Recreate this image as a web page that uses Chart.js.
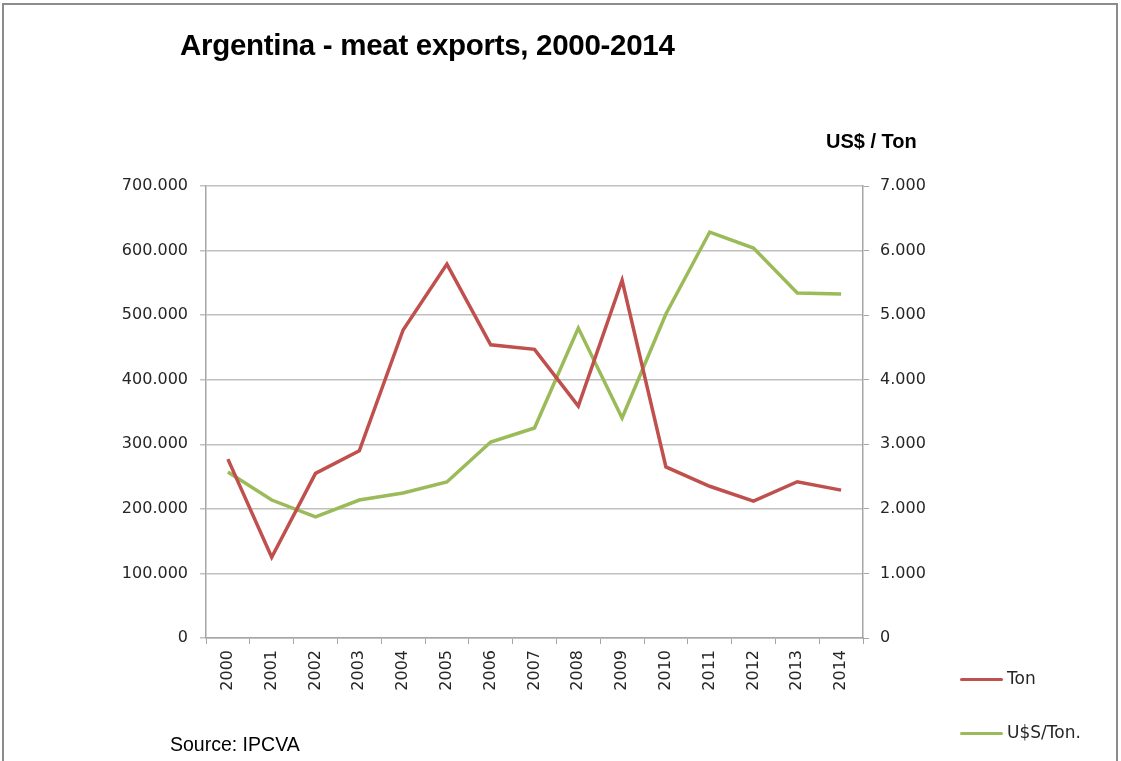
<!DOCTYPE html>
<html>
<head>
<meta charset="utf-8">
<script src="https://cdn.jsdelivr.net/npm/chart.js@4.4.1/dist/chart.umd.min.js"></script>
<style>
  html, body { margin: 0; padding: 0; background: #fff; }
  #wrap { position: relative; width: 1121px; height: 761px; overflow: hidden; }
  #frame { position: absolute; left: 2px; top: 3px; width: 1116px; height: 770px; border: 2px solid #8c8c8c; box-sizing: border-box; }
  canvas { position: absolute; left: 0; top: 0; }
  .txt { position: absolute; color: #000; white-space: nowrap; }
  #title { left: 180px; top: 28px; font: bold 29.5px "Liberation Sans", sans-serif; letter-spacing: -0.3px; }
  #unit { left: 826px; top: 130px; font: bold 20px "Liberation Sans", sans-serif; }
  #source { left: 170px; top: 733px; font: 19.5px "Liberation Sans", sans-serif; }
  .leg { position: absolute; font: 17px "DejaVu Sans", sans-serif; color: #262626; }
  .leg span { display: inline-block; width: 43px; height: 3px; vertical-align: middle; margin-right: 4px; border-radius: 2px; }
</style>
</head>
<body>
<div id="wrap">
  <div id="frame"></div>
  <canvas id="chart" width="1121" height="761"></canvas>
  <div id="title" class="txt">Argentina - meat exports, 2000-2014</div>
  <div id="unit" class="txt">US$ / Ton</div>
  <div id="source" class="txt">Source: IPCVA</div>
  <div id="legend"></div>
</div>
<script>
const years = ['2000', '2001', '2002', '2003', '2004', '2005', '2006', '2007',
    '2008', '2009', '2010', '2011', '2012', '2013', '2014'];
const tons = [277000, 125000, 255000, 290000, 477000, 579000, 454000, 447000,
    359000, 554000, 265000, 235000, 212000, 242000, 229000];
const usdPerTon = [2570, 2137, 1874, 2137, 2245, 2416, 3035, 3252,
    4800, 3407, 5017, 6287, 6040, 5343, 5327];

const red = '#c0504d';
const green = '#9bbb59';

function dots(v) {
    return String(v).replace(/\B(?=(\d{3})+(?!\d))/g, '.');
}

const tickFont = { family: 'DejaVu Sans', size: 16 };

const chart = new Chart(document.getElementById('chart'), {
    type: 'line',
    data: {
        labels: years,
        datasets: [{
            label: 'Ton',
            data: tons,
            borderColor: red,
            borderWidth: 3.5,
            pointRadius: 0,
            tension: 0,
            yAxisID: 'y'
        }, {
            label: 'U$S/Ton.',
            data: usdPerTon,
            borderColor: green,
            borderWidth: 3.5,
            pointRadius: 0,
            tension: 0,
            yAxisID: 'y1'
        }]
    },
    options: {
        responsive: false,
        animation: false,
        layout: { padding: { top: 186, left: 0, right: 0, bottom: 0 } },
        plugins: {
            legend: { display: false },
            tooltip: { enabled: false }
        },
        scales: {
            x: {
                offset: true,
                grid: { drawOnChartArea: false, offset: true, tickLength: 6, color: '#a6a6a6' },
                border: { color: '#a6a6a6', width: 1.5 },
                ticks: { minRotation: 90, maxRotation: 90, color: '#262626', font: tickFont, padding: 6 },
                afterFit: s => { s.height = 123; }
            },
            y: {
                position: 'left',
                min: 0,
                max: 700000,
                ticks: { stepSize: 100000, color: '#262626', font: tickFont, padding: 12, callback: v => dots(v) },
                grid: { color: '#c0c0c0', lineWidth: 1.5, tickLength: 6 },
                border: { color: '#a6a6a6', width: 1.5 },
                afterFit: s => { s.width = 206; }
            },
            y1: {
                position: 'right',
                min: 0,
                max: 7000,
                ticks: { stepSize: 1000, color: '#262626', font: tickFont, padding: 11, callback: v => dots(v) },
                grid: { drawOnChartArea: false, tickLength: 6, color: '#a6a6a6' },
                border: { color: '#a6a6a6', width: 1.5 },
                afterFit: s => { s.width = 258; }
            }
        }
    }
});

// legend built from the datasets
const legendTops = [668, 722];
chart.data.datasets.forEach((ds, i) => {
    const d = document.createElement('div');
    d.className = 'leg';
    d.style.left = '960px';
    d.style.top = legendTops[i] + 'px';
    d.innerHTML = '<span style="background:' + ds.borderColor + '"></span>' + ds.label;
    document.getElementById('legend').appendChild(d);
});
</script>
</body>
</html>
